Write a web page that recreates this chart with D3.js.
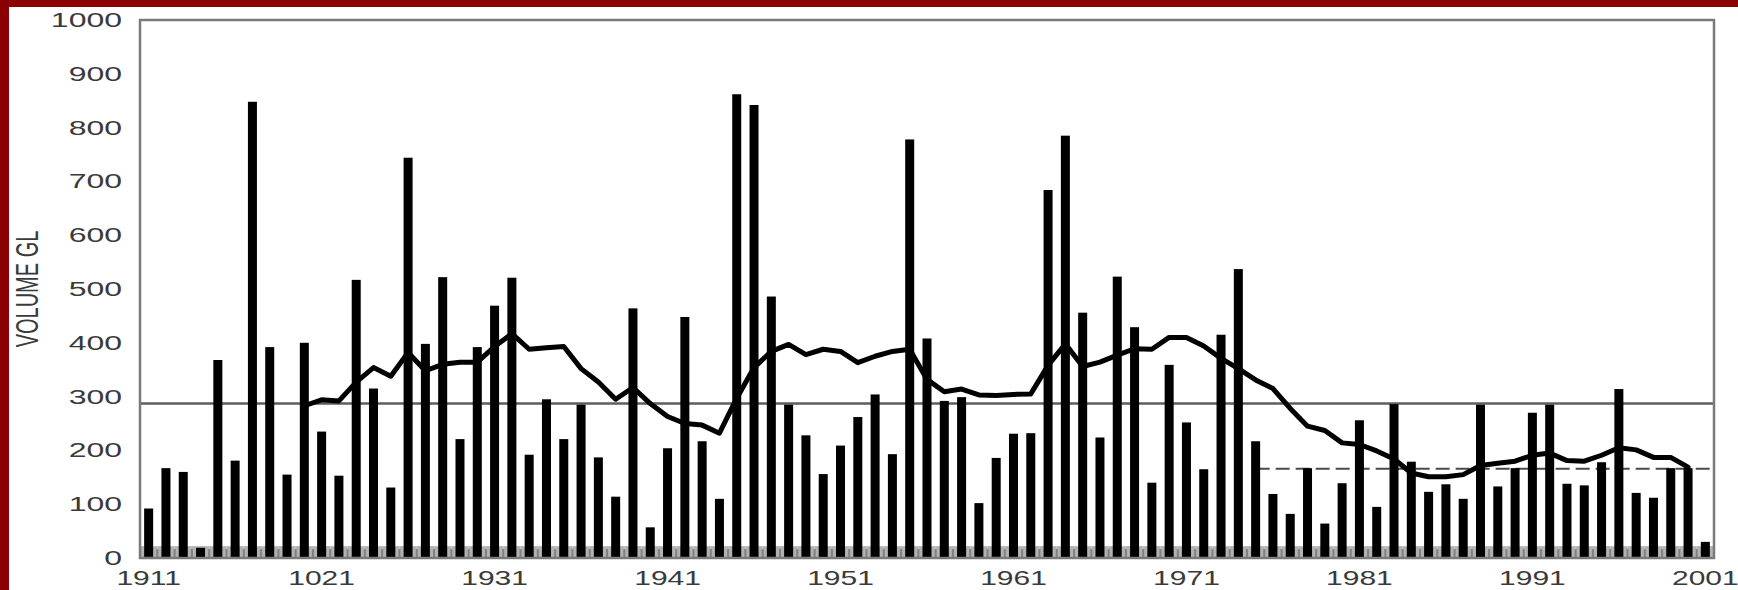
<!DOCTYPE html>
<html>
<head>
<meta charset="utf-8">
<script src="https://cdn.jsdelivr.net/npm/d3@7"></script>
<style>
  html, body { margin: 0; padding: 0; background: #ffffff; }
  svg { display: block; }
  .tick text { font-family: "Liberation Sans", Arial, sans-serif; font-size: 20px; fill: #3a3a3a; }
</style>
</head>
<body>
<svg id="chart" width="1738" height="590"></svg>
<script>
// Annual inflow volume (GL), 1911 to 2001
const firstYear = 1911;
const annualFlow = [
  92, 167, 160, 19, 368, 181, 848, 392, 155, 400,
  235, 153, 517, 315, 131, 744, 398, 522, 221, 392,
  469, 521, 192, 295, 221, 285, 187, 114, 464, 57,
  204, 448, 217, 110, 862, 842, 486, 285, 228, 156,
  209, 262, 304, 193, 778, 408, 292, 299, 102, 186,
  231, 232, 684, 785, 456, 224, 523, 429, 140, 359,
  252, 165, 415, 537, 217, 119, 82, 167, 64, 139,
  256, 95, 286, 179, 123, 137, 110, 285, 133, 167,
  270, 285, 138, 135, 178, 314, 121, 112, 167, 167,
  30
];

// Base allocation shown as the grey strip under every year
const baseFlow = [
  22, 22, 22, 22, 22, 22, 22, 22, 22, 22,
  22, 22, 22, 22, 22, 22, 22, 22, 22, 22,
  22, 22, 22, 22, 22, 22, 22, 22, 22, 22,
  22, 22, 22, 22, 22, 22, 22, 22, 22, 22,
  22, 22, 22, 22, 22, 22, 22, 22, 22, 22,
  22, 22, 22, 22, 22, 22, 22, 22, 22, 22,
  22, 22, 22, 22, 22, 22, 22, 22, 22, 22,
  22, 22, 22, 22, 22, 22, 22, 22, 22, 22,
  22, 22, 22, 22, 22, 22, 22, 22, 22, 22,
  22
];

// Ten-year running mean, 1920 to 2000
const runningMeanStart = 1920;
const runningMean = [
  283, 294, 292, 327, 354, 338, 382, 348, 360, 364,
  364, 393, 417, 388, 391, 393, 352, 327, 295, 317,
  287, 263, 250, 247, 232, 297, 354, 384, 397, 378,
  388, 384, 363, 375, 384, 388, 332, 309, 314, 303,
  302, 304, 305, 358, 398, 356, 364, 377, 389, 388,
  410, 410, 394, 371, 352, 331, 315, 278, 245, 237,
  214, 211, 199, 184, 158, 151, 151, 155, 172, 176,
  180, 191, 195, 181, 180, 191, 205, 201, 187, 187,
  169
];

// Reference levels
const longTermMean = 287;
const recentMean = 166;
const recentMeanStart = 1975;

// Axis text
const yTicks = [0, 100, 200, 300, 400, 500, 600, 700, 800, 900, 1000];
const xTickYears = [1911, 1921, 1931, 1941, 1951, 1961, 1971, 1981, 1991, 2001];
const xTickLabels = ["1911", "1021", "1931", "1941", "1951", "1961", "1971", "1981", "1991", "2001"];
const yTitle = "VOLUME GL";

const W = 1738, H = 590;
const plot = { left: 140, right: 1714, top: 20, bottom: 558 };
const stretch = 1.6;   // text is drawn wide, as in the printed figure
const xStretch = 1.5;

const svg = d3.select("#chart");

// page frame
svg.append("rect").attr("x", 0).attr("y", 0).attr("width", W).attr("height", H).attr("fill", "#ffffff");
svg.append("rect").attr("x", 0).attr("y", 0).attr("width", W).attr("height", 7).attr("fill", "#8b0000");
svg.append("rect").attr("x", 0).attr("y", 0).attr("width", 9).attr("height", H).attr("fill", "#8b0000");

const years = annualFlow.map((_, i) => firstYear + i);
const x = d3.scaleBand().domain(years).range([plot.left, plot.right]).padding(0);
const y = d3.scaleLinear().domain([0, 1000]).range([plot.bottom, plot.top]);
const cx = yr => x(yr) + x.bandwidth() / 2;
const barW = 9;

// grey base strip
const base = svg.append("g");
base.selectAll("rect.base")
  .data(baseFlow)
  .join("rect")
  .attr("class", "base")
  .attr("x", (d, i) => x(years[i]))
  .attr("width", x.bandwidth())
  .attr("y", d => y(d))
  .attr("height", d => y(0) - y(d))
  .attr("fill", "#b2b2b2");
base.selectAll("rect.edge")
  .data(baseFlow)
  .join("rect")
  .attr("class", "edge")
  .attr("x", (d, i) => x(years[i]) - 1)
  .attr("width", 2)
  .attr("y", d => y(d * 0.75))
  .attr("height", d => y(0) - y(d * 0.75))
  .attr("fill", "#808080");

// long-term mean
svg.append("line")
  .attr("x1", plot.left).attr("x2", plot.right)
  .attr("y1", y(longTermMean)).attr("y2", y(longTermMean))
  .attr("stroke", "#5e5e5e").attr("stroke-width", 2.5);

// recent mean (dashed)
svg.append("line")
  .attr("x1", cx(recentMeanStart)).attr("x2", plot.right)
  .attr("y1", y(recentMean)).attr("y2", y(recentMean))
  .attr("stroke", "#4a4a4a").attr("stroke-width", 2)
  .attr("stroke-dasharray", "14,6");

// annual bars
svg.append("g").selectAll("rect")
  .data(annualFlow)
  .join("rect")
  .attr("x", (d, i) => cx(years[i]) - barW / 2)
  .attr("width", barW)
  .attr("y", d => y(d))
  .attr("height", d => y(0) - y(d))
  .attr("fill", "#000000");

// running mean
const meanPts = runningMean.map((v, i) => [runningMeanStart + i, v]);
svg.append("path")
  .datum(meanPts)
  .attr("fill", "none")
  .attr("stroke", "#000000")
  .attr("stroke-width", 5)
  .attr("stroke-linejoin", "round")
  .attr("stroke-linecap", "round")
  .attr("d", d3.line().x(d => cx(d[0])).y(d => y(d[1])));

// plot frame
svg.append("rect")
  .attr("x", plot.left).attr("y", plot.top)
  .attr("width", plot.right - plot.left).attr("height", plot.bottom - plot.top)
  .attr("fill", "none").attr("stroke", "#7a7a7a").attr("stroke-width", 2.5);

// y axis
const yAxis = svg.append("g")
  .attr("transform", `translate(${plot.left},0)`)
  .call(d3.axisLeft(y).tickValues(yTicks).tickSize(0).tickPadding(0).tickFormat(d3.format("d")));
yAxis.select(".domain").remove();
yAxis.selectAll(".tick text")
  .attr("x", -18 / stretch)
  .attr("transform", `scale(${stretch},1)`);

// x axis (labels sit right at the lower edge of the page)
const xAxis = svg.append("g")
  .attr("transform", `translate(0,${plot.bottom})`)
  .call(d3.axisBottom(x).tickValues(xTickYears).tickSize(0).tickPadding(0)
    .tickFormat(d => xTickLabels[xTickYears.indexOf(d)]));
xAxis.select(".domain").remove();
xAxis.selectAll(".tick text")
  .attr("y", 27)
  .attr("dy", "0")
  .attr("font-size", 19)
  .attr("transform", `scale(${xStretch},1)`);

// y title
svg.append("text")
  .attr("transform", `translate(38,${(plot.top + plot.bottom) / 2}) scale(${stretch},1) rotate(-90)`)
  .attr("text-anchor", "middle")
  .attr("font-family", "Liberation Sans, Arial, sans-serif")
  .attr("font-size", 20)
  .attr("fill", "#3a3a3a")
  .text(yTitle);
</script>
</body>
</html>
